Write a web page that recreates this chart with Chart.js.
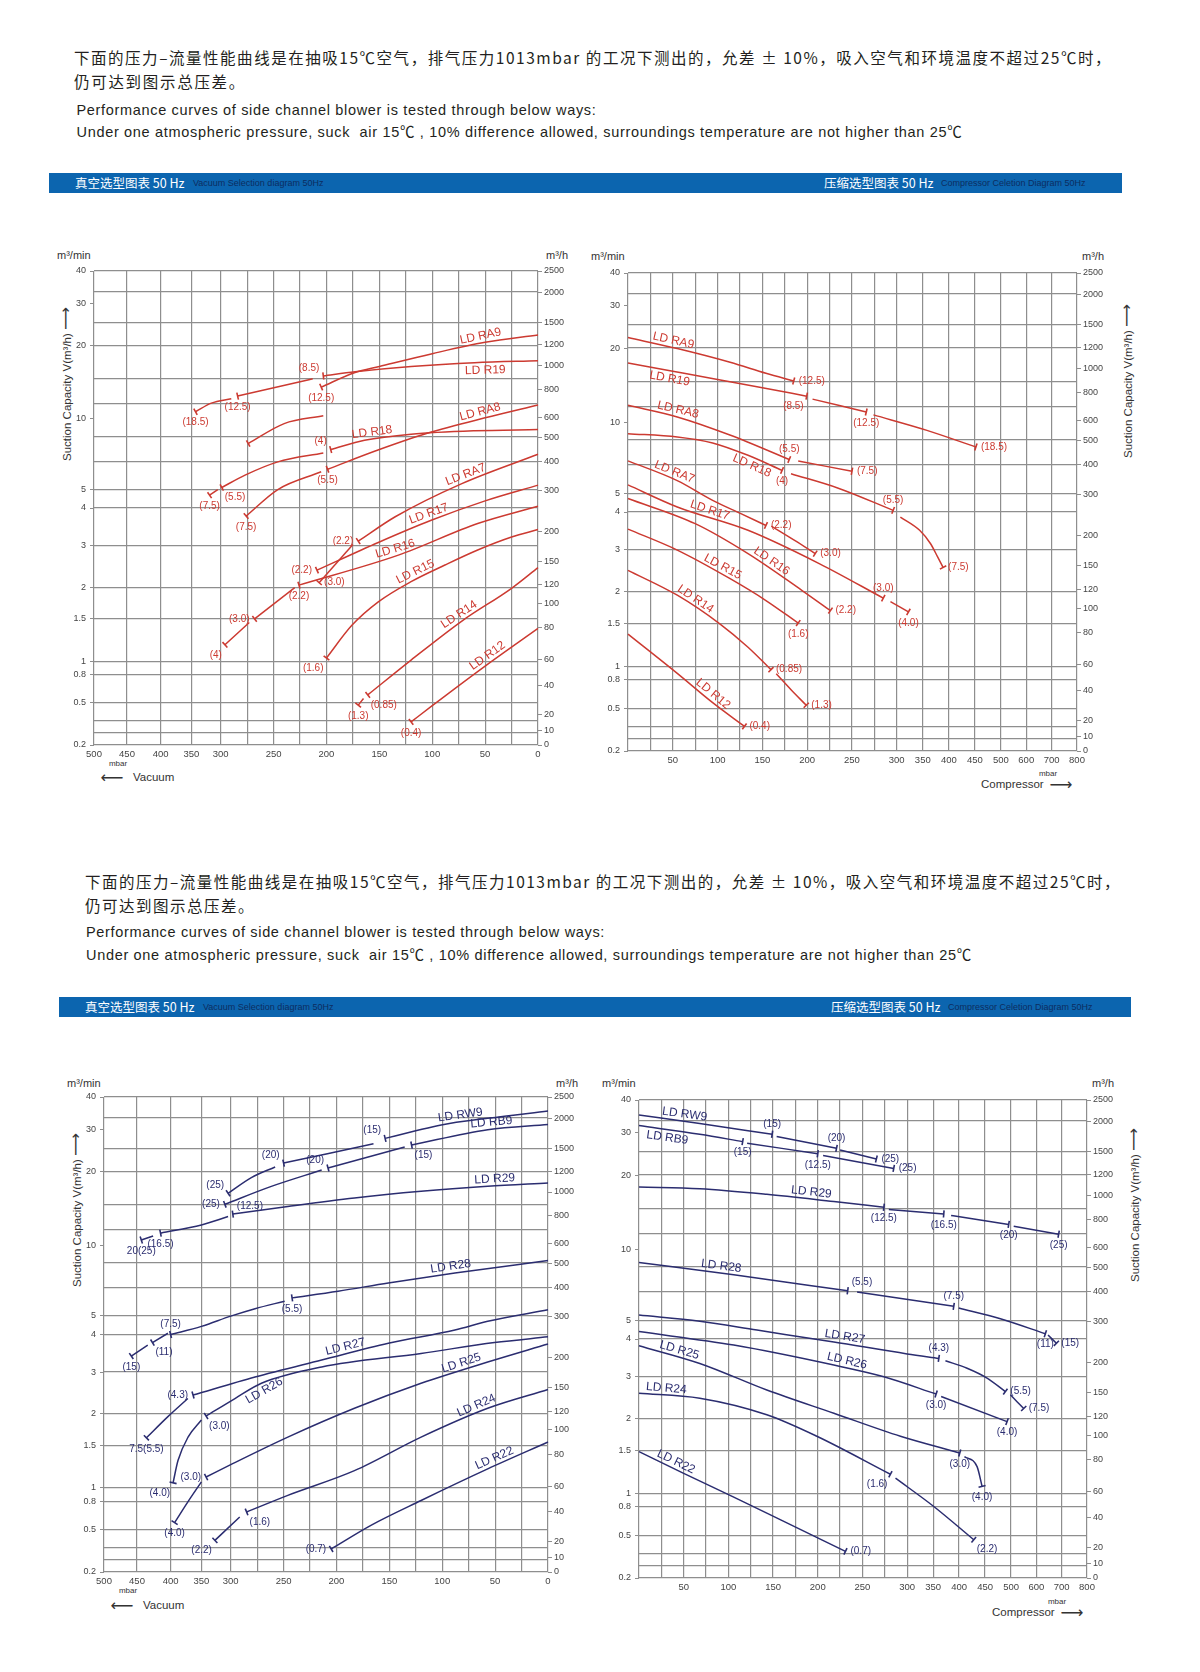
<!DOCTYPE html>
<html>
<head>
<meta charset="utf-8">
<script src="https://cdn.jsdelivr.net/npm/chart.js@4.4.1/dist/chart.umd.min.js"></script>
<style>
  body { margin: 0; background: #fff; }
  #page { position: relative; width: 1200px; height: 1672px; background: #fff; overflow: hidden;
          font-family: "Liberation Sans", Arial, "Noto Sans CJK SC", sans-serif; color: #231f20; }
  .t { position: absolute; white-space: pre; line-height: 1; }
  .cn { font-family: "Noto Sans CJK SC", sans-serif; font-size: 15.5px; }
  .en { font-family: "Liberation Sans", Arial, "Noto Sans CJK SC", sans-serif; font-size: 14.5px; }
  .bar { position: absolute; height: 20px; background: #0c65af; }
  .bh { position: absolute; white-space: nowrap; line-height: 1; transform: translateY(-50%);
        color: #fff; font-family: "Noto Sans CJK SC", sans-serif; font-size: 12.5px; }
  .bs { position: absolute; white-space: nowrap; line-height: 1; transform: translateY(-50%);
        color: #0c2d60; font-size: 9px; }
  canvas { position: absolute; }
  .u { position: absolute; white-space: nowrap; line-height: 1; transform: translateY(-50%); font-size: 11px; color: #333; }
  .c { position: absolute; white-space: nowrap; line-height: 1; transform: translate(-50%, -50%); color: #333; }
  .vt { position: absolute; white-space: nowrap; line-height: 1; transform: translate(-50%, -50%) rotate(-90deg);
        font-size: 11.5px; color: #333; }
  .arr { font-family: "DejaVu Sans", sans-serif; font-size: 16px; }
</style>
</head>
<body>
<div id="page">
  <div class="t cn" data-w="1038" style="left:74px;top:50px">下面的压力–流量性能曲线是在抽吸15℃空气，排气压力1013mbar 的工况下测出的，允差 ± 10%，吸入空气和环境温度不超过25℃时，</div>
  <div class="t cn" data-w="172" style="left:74px;top:73.5px">仍可达到图示总压差。</div>
  <div class="t en" data-w="520" style="left:76.5px;top:102.5px">Performance curves of side channel blower is tested through below ways:</div>
  <div class="t en" data-w="886" style="left:76.5px;top:125px">Under one atmospheric pressure, suck  air 15℃ , 10% difference allowed, surroundings temperature are not higher than 25℃</div>

  <div class="bar" style="left:49px;top:173px;width:1073px"></div>
  <div class="bh" style="left:75px;top:183px">真空选型图表 50 Hz</div>
  <div class="bs" style="left:193px;top:183px">Vacuum Selection diagram 50Hz</div>
  <div class="bh" style="left:824px;top:183px">压缩选型图表 50 Hz</div>
  <div class="bs" style="left:941px;top:183px">Compressor Celetion Diagram 50Hz</div>

  <div class="t cn" data-w="1036" style="left:85px;top:873.5px">下面的压力–流量性能曲线是在抽吸15℃空气，排气压力1013mbar 的工况下测出的，允差 ± 10%，吸入空气和环境温度不超过25℃时，</div>
  <div class="t cn" data-w="170" style="left:85px;top:898px">仍可达到图示总压差。</div>
  <div class="t en" data-w="519" style="left:86px;top:925px">Performance curves of side channel blower is tested through below ways:</div>
  <div class="t en" data-w="886" style="left:86px;top:948px">Under one atmospheric pressure, suck  air 15℃ , 10% difference allowed, surroundings temperature are not higher than 25℃</div>

  <div class="bar" style="left:59px;top:997px;width:1072px"></div>
  <div class="bh" style="left:85px;top:1007px">真空选型图表 50 Hz</div>
  <div class="bs" style="left:203px;top:1007px">Vacuum Selection diagram 50Hz</div>
  <div class="bh" style="left:831px;top:1007px">压缩选型图表 50 Hz</div>
  <div class="bs" style="left:948px;top:1007px">Compressor Celetion Diagram 50Hz</div>

  <!-- units and axis titles -->
  <div class="u" style="left:57px;top:255px">m³/min</div>
  <div class="u" style="left:546px;top:255px">m³/h</div>
  <div class="u" style="left:591px;top:256px">m³/min</div>
  <div class="u" style="left:1082px;top:256px">m³/h</div>
  <div class="u" style="left:67px;top:1083px">m³/min</div>
  <div class="u" style="left:556px;top:1083px">m³/h</div>
  <div class="u" style="left:602px;top:1083px">m³/min</div>
  <div class="u" style="left:1092px;top:1083px">m³/h</div>

  <div class="vt" style="left:66px;top:384px">Suction Capacity V(m³/h) <span class="arr">⟶</span></div>
  <div class="vt" style="left:1127px;top:381px">Suction Capacity V(m³/h) <span class="arr">⟶</span></div>
  <div class="vt" style="left:76px;top:1210px">Suction Capacity V(m³/h) <span class="arr">⟶</span></div>
  <div class="vt" style="left:1134px;top:1205px">Suction Capacity V(m³/h) <span class="arr">⟶</span></div>

  <div class="c" style="left:118px;top:764px;font-size:8px">mbar</div>
  <div class="c" style="left:1048px;top:774px;font-size:8px">mbar</div>
  <div class="c" style="left:128px;top:1591px;font-size:8px">mbar</div>
  <div class="c" style="left:1057px;top:1602px;font-size:8px">mbar</div>

  <div class="c arr" style="left:112px;top:778px">⟵</div>
  <div class="u" style="left:133px;top:778px;font-size:11.5px">Vacuum</div>
  <div class="c arr" style="left:122px;top:1606px">⟵</div>
  <div class="u" style="left:143px;top:1606px;font-size:11.5px">Vacuum</div>
  <div class="u" style="left:981px;top:785px;font-size:11.5px">Compressor</div>
  <div class="c arr" style="left:1061px;top:785px">⟶</div>
  <div class="u" style="left:992px;top:1613px;font-size:11.5px">Compressor</div>
  <div class="c arr" style="left:1072px;top:1613px">⟶</div>

  <canvas id="vacTop" width="540" height="509" style="left:44px;top:259px"></canvas>
  <canvas id="cmpTop" width="545" height="515" style="left:578px;top:261px"></canvas>
  <canvas id="vacBot" width="540" height="512" style="left:54px;top:1085px"></canvas>
  <canvas id="cmpBot" width="544" height="515" style="left:589px;top:1088px"></canvas>
</div>

<script>
// ---- axis values ----
const vacXTicks = [500, 450, 400, 350, 300, 275, 250, 225, 200, 175, 150, 125, 100, 75, 50, 25, 0];
const vacXLabels = [500, 450, 400, 350, 300, 250, 200, 150, 100, 50, 0];
const cmpXTicks = [0, 25, 50, 75, 100, 125, 150, 175, 200, 225, 250, 275, 300, 350, 400, 450, 500, 600, 700, 800];
const cmpXLabels = [50, 100, 150, 200, 250, 300, 350, 400, 450, 500, 600, 700, 800];
const yLabelValues = [40, 30, 20, 10, 5, 4, 3, 2, 1.5, 1, 0.8, 0.5, 0.2];
const yGridValues = [40, 33.3, 25, 20, 14.6, 11.6, 8.4, 6.6, 5, 4, 3, 2, 1.5, 1, 0.8, 0.5, 0.34, 0.26, 0.2];
const hLabelValues = [2500, 2000, 1500, 1200, 1000, 800, 600, 500, 400, 300, 200, 150, 120, 100, 80, 60, 40, 20, 10, 0];

// ---- curves: [model, motor kW tag, [[mbar, m3/min], ...]] ----
const vacRedCurves = [
  ['LD RA9', '(12.5)', [[0, 22.1], [50, 20.6], [100, 18.5], [150, 16.4], [173, 15.5], [205, 13.5]]],
  ['LD R19', '(8.5)', [[0, 17.3], [60, 17.0], [120, 16.4], [173, 15.6], [203, 15.0]]],
  ['LD R19', '(12.5)', [[213, 14.6], [284, 12.4]]],
  ['LD R19', '(18.5)', [[290, 12.1], [316, 11.6], [343, 10.7]]],
  ['LD RA9', '', [[203, 10.3], [240, 9.55], [274, 7.85]]],
  ['LD RA8', '(5.5)', [[0, 11.4], [50, 10.1], [104, 8.7], [150, 7.4], [199, 6.1]]],
  ['LD RA8', '(7.5)', [[205, 5.95], [246, 5.0], [276, 3.76]]],
  ['LD R18', '(4)', [[0, 9.0], [60, 8.9], [120, 8.6], [164, 8.1], [196, 7.4]]],
  ['LD R18', '(5.5)', [[203, 7.16], [246, 6.56], [277, 5.76], [299, 5.1]]],
  ['LD R18', '(7.5)', [[305, 5.0], [319, 4.67]]],
  ['LD RA7', '(2.2)', [[0, 7.07], [72, 5.3], [135, 3.74], [170, 3.1]]],
  ['LD RA7', '(3.0)', [[175, 3.02], [207, 2.09]]],
  ['LD R17', '(2.2)', [[0, 5.22], [50, 4.36], [101, 3.64], [151, 3.07], [209, 2.36]]],
  ['LD R16', '(2.2)', [[0, 4.09], [57, 3.55], [132, 2.73], [226, 2.04]]],
  ['LD R16', '(3.0)', [[230, 1.99], [268, 1.5]]],
  ['LD R16', '(4)', [[273, 1.45], [296, 1.17]]],
  ['LD R15', '(1.6)', [[0, 3.39], [25, 3.2], [57, 2.87], [88, 2.48], [120, 2.11], [151, 1.75], [176, 1.41], [200, 1.03]]],
  ['LD R14', '(0.85)', [[0, 2.42], [25, 1.98], [71, 1.48], [120, 1.01], [161, 0.57]]],
  ['LD R14', '(1.3)', [[165, 0.537], [170, 0.475]]],
  ['LD R12', '(0.4)', [[0, 1.37], [50, 0.92], [100, 0.47], [120, 0.33]]]
];
const vacRedNames = [['LD RA9', 0, 53, 'a'], ['LD R19', 1, 50, 'b'], ['LD RA8', 5, 53, 'a'], ['LD R18', 7, 156, 'a'],
  ['LD RA7', 10, 66, 'a'], ['LD R17', 12, 101, 'a'], ['LD R16', 13, 133, 'a'], ['LD R15', 16, 113, 'a'],
  ['LD R14', 17, 71, 'a'], ['LD R12', 19, 44, 'a']];

const cmpRedCurves = [
  ['LD RA9', '(12.5)', [[0, 22.1], [55, 19.9], [114, 17.5], [154, 15.8], [185, 14.7]]],
  ['LD R19', '(8.5)', [[0, 17.4], [50, 16.1], [100, 14.9], [150, 13.8], [199.5, 12.75]]],
  ['LD R19', '(12.5)', [[206, 12.4], [266, 11.0]]],
  ['LD R19', '(18.5)', [[274, 10.7], [358, 9.23], [452, 7.85]]],
  ['LD RA8', '(5.5)', [[0, 11.7], [55, 10.5], [114.5, 8.8], [180, 6.95]]],
  ['LD RA8', '(7.5)', [[190, 6.85], [250, 6.2]]],
  ['LD R18', '(4)', [[0, 8.94], [55, 8.66], [94.5, 8.17], [134, 7.24], [172, 6.25]]],
  ['LD R18', '(5.5)', [[182, 6.05], [234, 5.27], [296, 4.08]]],
  ['LD R18', '(7.5)', [[307, 3.85], [344, 3.48], [365, 3.14], [378.5, 2.8], [389, 2.53]]],
  ['LD RA7', '(2.2)', [[0, 6.86], [55, 5.66], [94.5, 4.6], [126, 3.95], [154, 3.61]]],
  ['LD RA7', '(3.0)', [[160, 3.59], [186, 3.22], [209, 2.89]]],
  ['LD R17', '(3.0)', [[0, 5.43], [55, 4.25], [134, 3.48], [214, 2.62], [285, 1.89]]],
  ['LD R17', '(4.0)', [[293, 1.83], [322.5, 1.67]]],
  ['LD R16', '(2.2)', [[0, 4.7], [75, 3.66], [134, 2.89], [194, 2.03], [226, 1.69]]],
  ['LD R15', '(1.6)', [[0, 3.51], [55, 2.99], [114, 2.27], [154, 1.85], [190, 1.51]]],
  ['LD R14', '(0.85)', [[0, 2.46], [55, 1.94], [102.5, 1.5], [134, 1.2], [159.6, 0.947]]],
  ['LD R14', '(1.3)', [[165.5, 0.886], [182, 0.68], [199, 0.527]]],
  ['LD R12', '(0.4)', [[0, 1.36], [55, 0.89], [94.5, 0.55], [130, 0.34]]]
];
const cmpRedNames = [['LD RA9', 0, 49, 'a'], ['LD R19', 1, 48, 'b'], ['LD RA8', 4, 54, 'a'], ['LD R18', 6, 142, 'b'],
  ['LD RA7', 9, 49, 'a'], ['LD R17', 11, 89, 'a'], ['LD R16', 13, 156, 'a'], ['LD R15', 14, 102, 'a'],
  ['LD R14', 15, 71, 'a'], ['LD R12', 17, 90, 'a']];

const vacBlueCurves = [
  ['LD RW9', '(15)', [[0, 35.3], [57, 33.1], [101, 31.2], [126, 29.5], [154, 27.5]]],
  ['LD RW9', '(20)', [[165, 26.1], [250, 21.7]]],
  ['LD RW9', '(25)', [[258, 20.9], [280.5, 18.9], [304.5, 16.3]]],
  ['LD RB9', '(15)', [[0, 31.3], [57, 29.9], [129, 25.8]]],
  ['LD RB9', '(20)', [[135.5, 25.3], [208, 20.7]]],
  ['LD RB9', '(25)', [[214, 20.3], [261.6, 17.4], [310, 14.7]]],
  ['LD R29', '(12.5)', [[0, 17.96], [57, 17.4], [120, 16.6], [183, 15.6], [246, 14.4], [298, 13.4]]],
  ['LD R29', '(16.5)', [[304.5, 13.1], [350, 12.1], [415, 11.2]]],
  ['LD R29', '20(25)', [[426, 10.9], [443.6, 10.5]]],
  ['LD R28', '(5.5)', [[0, 8.6], [88, 7.62], [151, 6.91], [198.5, 6.37], [242, 5.97]]],
  ['LD R28', '(7.5)', [[249, 5.78], [277, 5.37], [300, 4.99], [350, 4.41], [400, 4.0]]],
  ['LD R28', '(11)', [[404, 4.06], [427, 3.76]]],
  ['LD R28', '(15)', [[434, 3.69], [458.6, 3.39]]],
  ['LD R27', '(4.3)', [[0, 5.31], [57, 4.69], [88, 4.22], [151, 3.74], [214, 3.29], [277, 2.86], [363.6, 2.4]]],
  ['LD R27', '7.5(5.5)', [[372, 2.32], [404, 1.95], [436, 1.61]]],
  ['LD R26', '(3.0)', [[0, 3.93], [50.6, 3.76], [120, 3.46], [214, 3.12], [271, 2.69], [296, 2.32], [342, 1.96]]],
  ['LD R26', '(4.0)', [[350, 1.89], [371.7, 1.62], [388, 1.3], [396, 1.05]]],
  ['LD R25', '(3.0)', [[0, 3.72], [57, 3.24], [120, 2.69], [183, 2.11], [246, 1.62], [300, 1.25], [342, 1.11]]],
  ['LD R25', '(4.0)', [[350, 1.06], [371.7, 0.795], [393.5, 0.562]]],
  ['LD R24', '(1.6)', [[0, 2.53], [57, 2.11], [120, 1.62], [183, 1.18], [246, 0.883], [285, 0.67]]],
  ['LD R24', '(2.2)', [[291.5, 0.617], [327, 0.397]]],
  ['LD R22', '(0.7)', [[0, 1.55], [57, 1.2], [120, 0.81], [167, 0.54], [205, 0.33]]]
];
const vacBlueNames = [['LD RW9', 0, 82, 'a'], ['LD RB9', 3, 53, 'a'], ['LD R29', 6, 50, 'a'], ['LD R28', 9, 91, 'a'],
  ['LD R27', 13, 190, 'a'], ['LD R26', 15, 272, 'b'], ['LD R25', 17, 80, 'a'], ['LD R24', 19, 65, 'a'],
  ['LD R22', 21, 48, 'a']];

const cmpBlueCurves = [
  ['LD RW9', '(15)', [[0, 35.0], [68, 32.5], [149, 29.5]]],
  ['LD RW9', '(20)', [[154, 28.9], [221, 25.8]]],
  ['LD RW9', '(25)', [[225, 25.4], [265.6, 23.3]]],
  ['LD RB9', '(15)', [[0, 31.9], [68, 29.5], [116, 27.5]]],
  ['LD RB9', '(12.5)', [[121, 27.1], [200, 24.5]]],
  ['LD RB9', '(25)', [[206, 24.1], [285, 21.3]]],
  ['LD R29', '(12.5)', [[0, 17.9], [68, 17.6], [143, 16.7], [218, 15.6], [274, 14.8]]],
  ['LD R29', '(16.5)', [[279.5, 14.5], [370.5, 13.9]]],
  ['LD R29', '(20)', [[384.6, 13.7], [495.5, 12.6]]],
  ['LD R29', '(25)', [[510.5, 12.4], [688, 11.5]]],
  ['LD R28', '(5.5)', [[0, 8.78], [106, 7.79], [233.5, 6.67]]],
  ['LD R28', '(7.5)', [[244, 6.59], [389.7, 5.73]]],
  ['LD R28', '(11)', [[399.4, 5.64], [479.5, 5.08], [635.5, 4.26]]],
  ['LD R28', '(15)', [[646, 4.2], [679, 3.87]]],
  ['LD R27', '(4.3)', [[0, 5.27], [68, 4.95], [132, 4.45], [218, 3.91], [300, 3.57], [361, 3.45]]],
  ['LD R27', '(5.5)', [[373.7, 3.39], [415.4, 3.2], [453.8, 2.96], [489, 2.6]]],
  ['LD R27', '(7.5)', [[498.7, 2.52], [550, 2.21]]],
  ['LD R26', '(3.0)', [[0, 4.37], [106, 3.82], [218, 3.28], [274, 3.0], [355.8, 2.54]]],
  ['LD R26', '(4.0)', [[365.4, 2.48], [492.3, 1.95]]],
  ['LD R25', '(3.0)', [[0, 3.8], [68, 3.32], [143, 2.64], [218, 2.11], [292.5, 1.71], [401.3, 1.47]]],
  ['LD R25', '(4.0)', [[410.3, 1.42], [434.6, 1.29], [444.2, 1.07]]],
  ['LD R24', '(1.6)', [[0, 2.56], [68, 2.44], [143, 2.08], [199, 1.71], [281.3, 1.2]]],
  ['LD R24', '(2.2)', [[287, 1.156], [351.3, 0.804], [428.2, 0.456]]],
  ['LD R22', '(0.7)', [[0, 1.49], [50, 1.21], [106, 0.94], [162, 0.63], [231, 0.355]]]
];
const cmpBlueNames = [['LD RW9', 0, 50, 'a'], ['LD RB9', 3, 33, 'b'], ['LD R29', 6, 192, 'a'], ['LD R28', 10, 91, 'a'],
  ['LD R27', 14, 229, 'a'], ['LD R26', 17, 231, 'a'], ['LD R25', 19, 43, 'a'], ['LD R24', 21, 30, 'a'],
  ['LD R22', 23, 38, 'a']];

// where each motor tag sits relative to its end mark
const vacRedPlace = ['b', 'al', 'b', 'b', 'b', 'b', 'b', 'al', 'br', 'b', 'l', 'r', 'l', 'b', 'l', 'bl', 'bl', 'br', 'b', 'b'];
const cmpRedPlace = ['r', 'bl', 'b', 'r', 'a', 'r', 'b', 'a', 'r', 'r', 'r', 'a', 'b', 'r', 'b', 'r', 'r', 'r'];
const vacBluePlace = ['al', 'al', 'al', 'br', 'al', 'l', 'ar', 'b', 'b', 'b', 'a', 'br', 'b', 'l', 'b', 'br', 'bl', 'l', 'b', 'br', 'bl', 'l'];
const cmpBluePlace = ['a', 'a', 'r', 'b', 'b', 'r', 'b', 'b', 'b', 'b', 'ar', 'a', 'b', 'r', 'a', 'r', 'r', 'b', 'b', 'b', 'b', 'bl', 'br', 'r'];

// ---- axis shape of the printed sheet (value -> fraction along the axis) ----
const vacKnots = [[500, 0], [450, 0.0743], [400, 0.150], [350, 0.2194], [300, 0.2854], [0, 1]];
const cmpKnots = [[0, 0], [300, 0.5985], [500, 0.8305], [800, 1]];
const yKnots = [[40, 0], [30, 0.068], [20, 0.157], [10, 0.312], [5, 0.461], [4, 0.5], [3, 0.579], [2, 0.667],
  [1.5, 0.734], [1, 0.823], [0.8, 0.851], [0.5, 0.911], [0.2, 1]];
const hKnots = [[2500, 0], [2000, 0.046], [1500, 0.108], [1200, 0.156], [1000, 0.2], [800, 0.25], [600, 0.309],
  [500, 0.351], [400, 0.401], [300, 0.463], [200, 0.549], [150, 0.612], [120, 0.662], [100, 0.701], [80, 0.753],
  [60, 0.82], [40, 0.8735], [20, 0.9356], [10, 0.969], [0, 1]];

const GRID = '#8e8e8e';
const RED = '#cc3a31';
const NAVY = '#2b2d70';

Chart.defaults.font.family = '"Liberation Sans", Arial, sans-serif';

// piecewise axis: the printed diagrams are neither linear nor log
class PiecewiseScale extends Chart.Scale {
  determineDataLimits() {
    const vals = this.options.knots.map(k => k[0]);
    this.min = Math.min(...vals);
    this.max = Math.max(...vals);
  }
  buildTicks() {
    return this.options.tickValues.map(v => ({ value: v }));
  }
  getLabelForValue(v) {
    return String(v);
  }
  _decimal(v) {
    const k = this.options.knots.slice().sort((a, b) => a[0] - b[0]);
    let i = 0;
    while (i < k.length - 2 && v > k[i + 1][0]) i++;
    const [a, fa] = k[i], [b, fb] = k[i + 1];
    const useLog = this.options.logInterp && a > 0 && b > 0 && v > 0;
    const t = useLog ? Math.log(v / a) / Math.log(b / a) : (v - a) / (b - a);
    return fa + t * (fb - fa);
  }
  getPixelForValue(v) {
    const d = this._decimal(v);
    return this.isHorizontal() ? this.left + d * this.width : this.top + d * this.height;
  }
  getValueForPixel(p) {
    const d = this.isHorizontal() ? (p - this.left) / this.width : (p - this.top) / this.height;
    const k = this.options.knots.slice().sort((a, b) => a[1] - b[1]);
    let i = 0;
    while (i < k.length - 2 && d > k[i + 1][1]) i++;
    const [a, fa] = k[i], [b, fb] = k[i + 1];
    return a + (d - fa) / (fb - fa) * (b - a);
  }
}
PiecewiseScale.id = 'piecewise';
PiecewiseScale.defaults = {};
Chart.register(PiecewiseScale);

function endAngle(chart, pts) {
  const xs = chart.scales.x, ys = chart.scales.y;
  const a = pts[pts.length - 2], b = pts[pts.length - 1];
  const dx = xs.getPixelForValue(b[0]) - xs.getPixelForValue(a[0]);
  const dy = ys.getPixelForValue(b[1]) - ys.getPixelForValue(a[1]);
  return Math.atan2(dy, dx) * 180 / Math.PI + 90;
}

function tagAt(px, py, code) {
  switch (code) {
    case 'l': return [px - 5, py, 'right'];
    case 'r': return [px + 5, py, 'left'];
    case 'a': return [px, py - 10, 'center'];
    case 'al': return [px - 4, py - 8, 'right'];
    case 'ar': return [px + 4, py - 8, 'left'];
    case 'bl': return [px - 3, py + 10, 'right'];
    case 'br': return [px + 3, py + 10, 'left'];
    default: return [px, py + 11, 'center'];
  }
}

function labelPlugin(curves, places, names, color) {
  return {
    id: 'curveLabels',
    afterDatasetsDraw(chart) {
      const { ctx } = chart;
      const xs = chart.scales.x, ys = chart.scales.y;
      ctx.save();
      ctx.fillStyle = color;
      ctx.textBaseline = 'middle';
      ctx.font = '10px "Liberation Sans", Arial, sans-serif';
      curves.forEach((c, i) => {
        if (!c[1]) return;
        const p = c[2][c[2].length - 1];
        const [tx, ty, al] = tagAt(xs.getPixelForValue(p[0]), ys.getPixelForValue(p[1]), places[i]);
        ctx.textAlign = al;
        ctx.fillText(c[1], tx, ty);
      });
      ctx.font = '12px "Liberation Sans", Arial, sans-serif';
      ctx.textAlign = 'center';
      names.forEach(([text, si, at, side]) => {
        const pts = curves[si][2].map(p => [xs.getPixelForValue(p[0]), ys.getPixelForValue(p[1])]);
        const ax = xs.getPixelForValue(at);
        let j = 0;
        while (j < pts.length - 2 && (pts[j][0] - ax) * (pts[j + 1][0] - ax) > 0) j++;
        const p0 = pts[j], p1 = pts[j + 1];
        const ay = p0[1] + (ax - p0[0]) / (p1[0] - p0[0]) * (p1[1] - p0[1]);
        let dx = p1[0] - p0[0], dy = p1[1] - p0[1];
        if (dx < 0) { dx = -dx; dy = -dy; }
        const th = Math.atan2(dy, dx);
        const d = side === 'a' ? 7 : -8;
        ctx.save();
        ctx.translate(ax + Math.sin(th) * d, ay - Math.cos(th) * d);
        ctx.rotate(th);
        ctx.fillText(text, 0, 0);
        ctx.restore();
      });
      ctx.restore();
    }
  };
}

function buildChart(id, curves, places, names, color, xKnots, xTicks, xLabels, xH) {
  const xShow = new Set(xLabels);
  const datasets = curves.map(c => ({
    data: c[2].map(p => ({ x: p[0], y: p[1] })),
    xAxisID: 'x', yAxisID: 'y',
    borderColor: color, borderWidth: 1.5, fill: false,
    cubicInterpolationMode: 'monotone',
    pointStyle: 'line', pointBorderColor: color, pointBackgroundColor: color, pointBorderWidth: 1.6,
    pointRadius: ctx => ctx.dataIndex === c[2].length - 1 ? 3.6 : 0,
    pointRotation: ctx => endAngle(ctx.chart, c[2])
  }));
  return new Chart(document.getElementById(id), {
    type: 'line',
    data: { datasets },
    options: {
      responsive: false, animation: false, events: [],
      layout: { padding: { top: 12, left: 0, right: 0, bottom: 0 } },
      plugins: { legend: { display: false }, tooltip: { enabled: false } },
      scales: {
        x: {
          type: 'piecewise', position: 'bottom', knots: xKnots, tickValues: xTicks,
          grid: { color: GRID, lineWidth: 1.2, drawTicks: false },
          border: { display: false },
          ticks: { autoSkip: false, maxRotation: 0, padding: 4, color: '#444', font: { size: 9.5 },
                   callback: v => xShow.has(v) ? String(v) : '' },
          afterFit: s => { s.height = xH; }
        },
        yG: {
          type: 'piecewise', position: 'left', knots: yKnots, logInterp: true, tickValues: yGridValues,
          grid: { color: GRID, lineWidth: 1.2, drawTicks: false },
          border: { display: false },
          ticks: { display: false },
          afterFit: s => { s.width = 0; }
        },
        y: {
          type: 'piecewise', position: 'left', knots: yKnots, logInterp: true, tickValues: yLabelValues,
          grid: { drawOnChartArea: false, color: GRID, tickLength: 4, lineWidth: 1 },
          border: { display: false },
          ticks: { autoSkip: false, padding: 4, color: '#444', font: { size: 9 } },
          afterFit: s => { s.width = 50; }
        },
        yR: {
          type: 'piecewise', position: 'right', knots: hKnots, tickValues: hLabelValues,
          grid: { drawOnChartArea: false, color: GRID, tickLength: 4, lineWidth: 1 },
          border: { display: false },
          ticks: { autoSkip: false, padding: 2, color: '#444', font: { size: 9 } },
          afterFit: s => { s.width = 46; }
        }
      }
    },
    plugins: [labelPlugin(curves, places, names, color)]
  });
}

buildChart('vacTop', vacRedCurves, vacRedPlace, vacRedNames, RED, vacKnots, vacXTicks, vacXLabels, 23);
buildChart('cmpTop', cmpRedCurves, cmpRedPlace, cmpRedNames, RED, cmpKnots, cmpXTicks, cmpXLabels, 25);
buildChart('vacBot', vacBlueCurves, vacBluePlace, vacBlueNames, NAVY, vacKnots, vacXTicks, vacXLabels, 25);
buildChart('cmpBot', cmpBlueCurves, cmpBluePlace, cmpBlueNames, NAVY, cmpKnots, cmpXTicks, cmpXLabels, 25);

// stretch the header lines to the printed widths
document.querySelectorAll('[data-w]').forEach(el => {
  const target = +el.dataset.w;
  const natural = el.getBoundingClientRect().width;
  const n = [...el.textContent].length;
  el.style.letterSpacing = ((target - natural) / n) + 'px';
});
</script>
</body>
</html>
